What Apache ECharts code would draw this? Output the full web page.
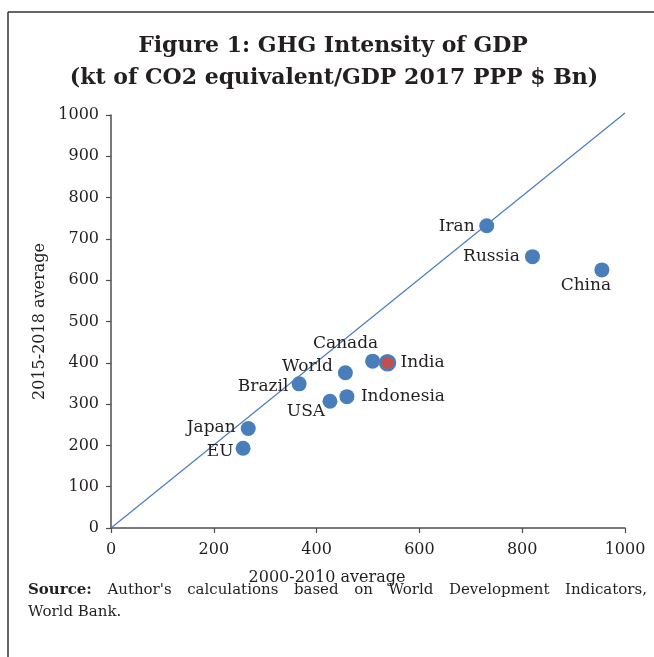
<!DOCTYPE html>
<html>
<head>
<meta charset="utf-8">
<script src="https://cdn.jsdelivr.net/npm/echarts@6/dist/echarts.min.js"></script>
<style>
html,body{margin:0;padding:0;background:#fff;}
#chart{width:654px;height:657px;}
</style>
</head>
<body>
<div id="chart"></div>
<script>
// ---- data ----
const countries = ['Iran','Russia','China','Canada','India','World','Brazil','Indonesia','USA','Japan','EU'];
const avg2000_2010 = [731, 820, 955, 509, 538, 456, 366, 459, 426, 267, 257];
const avg2015_2018 = [732, 657, 625, 404, 400, 376, 349, 318, 307, 241, 193];
const diagX = [0, 1000];
const diagY = [0, 1005];
const axisTicks = [0, 100, 200, 300, 400, 500, 600, 700, 800, 900, 1000];

const titleLine1 = 'Figure 1: GHG Intensity of GDP';
const titleLine2 = '(kt of CO2 equivalent/GDP 2017 PPP $ Bn)';
const xName = '2000-2010 average';
const yName = '2015-2018 average';
const sourceWords = ["Author's","calculations","based","on","World","Development","Indicators,"];

// ---- styling (label placement relative to the marker centre) ----
const FONT = '"DejaVu Serif", serif';
const labelOffsets = {
  Iran:[-30,1], Russia:[-41,0], China:[-16,16], Canada:[-27,-18], India:[35,0],
  World:[-38,-6], Brazil:[-36,3], Indonesia:[56,0], USA:[-24,10], Japan:[-37,-1], EU:[-23,3]
};
const BLUE = '#4A7EBB';
const RED = '#C0504D';
const TXT = '#231F20';
const AXIS = '#4D4D4D';

const points = countries.map((c, i) => {
  const item = { name: c, value: [avg2000_2010[i], avg2015_2018[i]] };
  if (c === 'India') {
    item.itemStyle = { color: RED, borderColor: BLUE, borderWidth: 2.5 };
  }
  return item;
});

const chart = echarts.init(document.getElementById('chart'), null, {renderer:'canvas'});

// justified source line
const ctx = document.createElement('canvas').getContext('2d');
const srcFont = '15px ' + FONT;
ctx.font = 'bold ' + srcFont;
const srcBoldW = ctx.measureText('Source:').width;
ctx.font = srcFont;
const widths = sourceWords.map(w => ctx.measureText(w).width);
const lineLeft = 28, lineRight = 647;
const totalW = srcBoldW + widths.reduce((a,b)=>a+b,0);
const gap = (lineRight - lineLeft - totalW) / sourceWords.length;
const srcGraphics = [{
  type:'text', left: lineLeft, top: 583,
  style:{ text:'Source:', font:'bold ' + srcFont, fill: TXT }
}];
let cx = lineLeft + srcBoldW + gap;
sourceWords.forEach((w, i) => {
  srcGraphics.push({ type:'text', left: cx, top: 583, style:{ text:w, font: srcFont, fill: TXT } });
  cx += widths[i] + gap;
});
srcGraphics.push({ type:'text', left: lineLeft, top: 605, style:{ text:'World Bank.', font: srcFont, fill: TXT } });

const option = {
  animation: false,
  backgroundColor: '#fff',
  textStyle: { fontFamily: FONT },
  grid: { left: 111, right: 29, top: 115, bottom: 129, containLabel: false },
  graphic: [
    { type:'line', shape:{ x1:8, y1:12, x2:654, y2:12 }, style:{ stroke:'#333', lineWidth:1.5 } },
    { type:'line', shape:{ x1:8, y1:12, x2:8, y2:657 }, style:{ stroke:'#333', lineWidth:1.5 } },
    { type:'text', x:333, y:46, style:{ text:titleLine1, font:'bold 22px ' + FONT, fill:TXT, align:'center', verticalAlign:'middle' } },
    { type:'text', x:334, y:78, style:{ text:titleLine2, font:'bold 22px ' + FONT, fill:TXT, align:'center', verticalAlign:'middle' } }
  ].concat(srcGraphics),
  xAxis: {
    type:'value', min: axisTicks[0], max: axisTicks[axisTicks.length-1], interval: 200,
    name: xName, nameLocation:'middle', nameGap: 42,
    nameTextStyle:{ fontFamily: FONT, fontSize:16, color:TXT, padding:[0, 82, 0, 0] },
    axisLine:{ show:true, onZero:false, lineStyle:{ color:AXIS, width:1.5 } },
    axisTick:{ show:true, length:5, lineStyle:{ color:AXIS, width:1.2 } },
    axisLabel:{ fontFamily: FONT, fontSize:16, color:TXT, margin:14, formatter: v => String(v) },
    splitLine:{ show:false }
  },
  yAxis: {
    type:'value', min: axisTicks[0], max: axisTicks[axisTicks.length-1], interval: 100,
    name: yName, nameLocation:'middle', nameGap: 51, nameRotate: 90,
    nameTextStyle:{ fontFamily: FONT, fontSize:16, color:TXT },
    axisLine:{ show:true, onZero:false, lineStyle:{ color:AXIS, width:1.5 } },
    axisTick:{ show:true, length:5, lineStyle:{ color:AXIS, width:1.2 } },
    axisLabel:{ fontFamily: FONT, fontSize:16, color:TXT, margin:12, formatter: v => String(v) },
    splitLine:{ show:false }
  },
  series: [
    {
      type:'line',
      data: diagX.map((x, i) => [x, diagY[i]]),
      symbol:'none', clip:false, silent:true,
      lineStyle:{ color: BLUE, width:1.2 },
      z: 1
    },
    {
      type:'scatter',
      data: points,
      symbolSize: 15,
      itemStyle:{ color: BLUE, opacity:1 },
      label:{
        show:true, position:'inside', formatter: p => p.name,
        fontFamily: FONT, fontSize:17, color: TXT, align:'center', verticalAlign:'middle'
      },
      labelLayout: function (params) {
        const o = labelOffsets[countries[params.dataIndex]];
        return { dx: o[0], dy: o[1], hideOverlap: false };
      },
      z: 2
    }
  ]
};
chart.setOption(option);
</script>
</body>
</html>
